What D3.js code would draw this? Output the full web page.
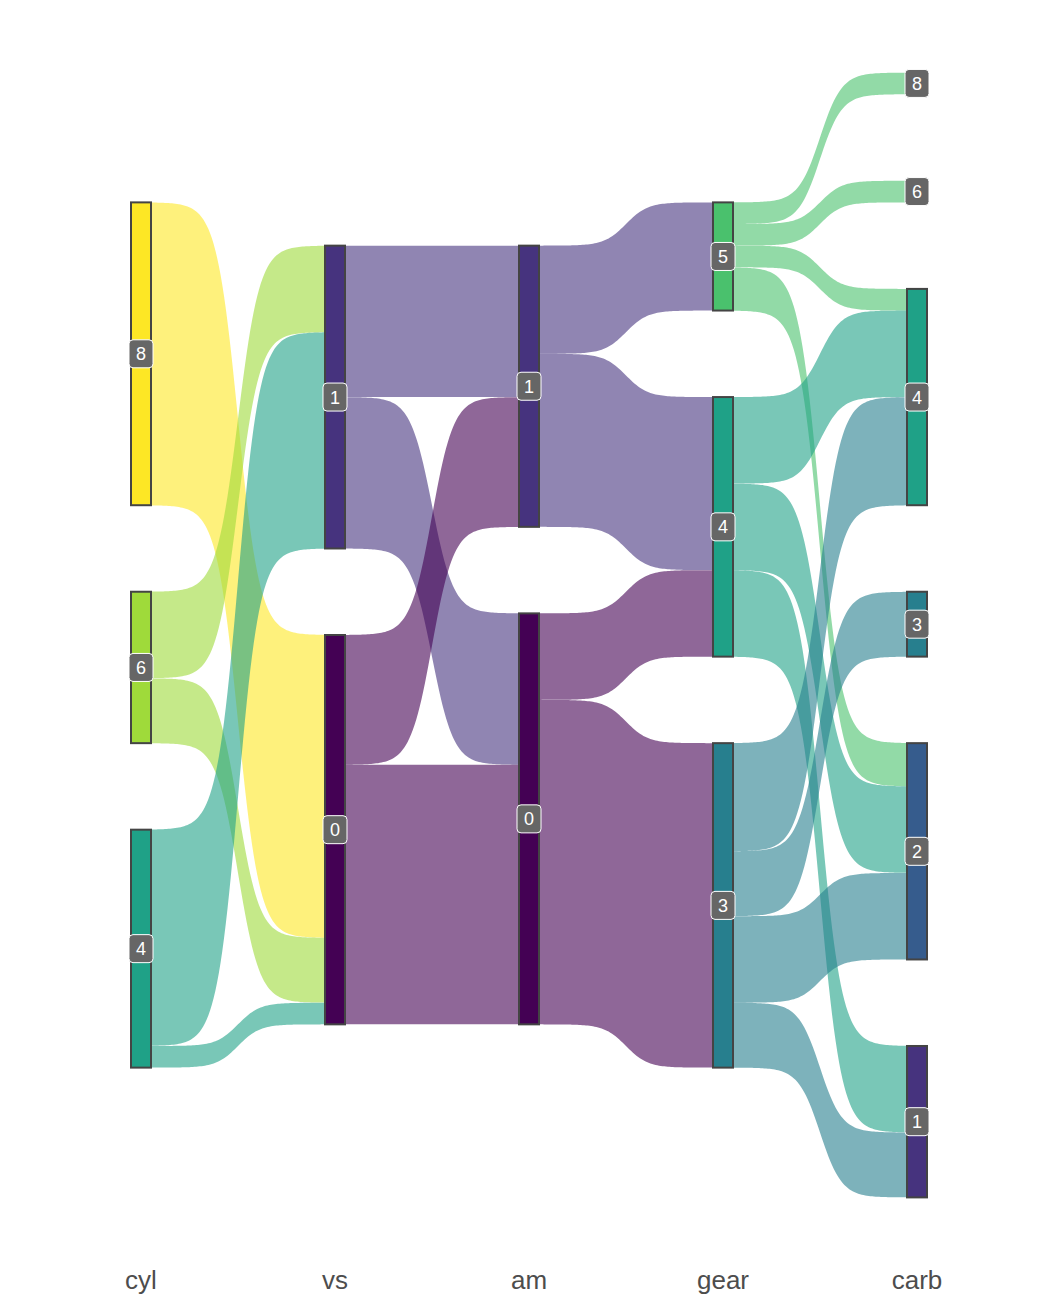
<!DOCTYPE html>
<html>
<head>
<meta charset="utf-8">
<script src="https://cdn.jsdelivr.net/npm/d3@7"></script>
<style>
  body { margin: 0; background: #fff; }
</style>
</head>
<body>
<script>
// stages along x and node order within each stage (top to bottom)
var stages = ["cyl", "vs", "am", "gear", "carb"];
var stageNodes = [
	["8", "6", "4"],
	["1", "0"],
	["1", "0"],
	["5", "4", "3"],
	["8", "6", "4", "3", "2", "1"]];

// flows between neighbouring stages: [from, to, cars]
var cylToVs = [["8","0",14], ["6","1",4], ["6","0",3], ["4","1",10], ["4","0",1]];
var vsToAm = [["1","1",7], ["1","0",7], ["0","1",6], ["0","0",12]];
var amToGear = [["1","5",5], ["1","4",8], ["0","4",4], ["0","3",15]];
var gearToCarb = [["5","8",1], ["5","6",1], ["5","4",1], ["5","2",2],
	["4","4",4], ["4","2",4], ["4","1",4],
	["3","4",5], ["3","3",3], ["3","2",4], ["3","1",3]];
var links = [cylToVs, vsToAm, amToGear, gearToCarb];

var levels = ["0", "1", "2", "3", "4", "5", "6", "8"];
var palette = ["#440154", "#46337E", "#365C8D", "#277F8E", "#1FA187", "#4AC16D", "#9FDA3A", "#FDE725"];

var width = 1050;
var height = 1312;
var gap = 4;
var nodeW = 20;

var color = d3.scaleOrdinal().domain(levels).range(palette);
var x = d3.scalePoint().domain(stages).range([141, 917]);
var y = d3.scaleLinear().domain([-26, 26]).range([72.6, 1197.4]);

var svg = d3.select("body")
	.append("svg")
	.attr("width", width)
	.attr("height", height);

// node sizes and positions
var nodes = stages.map(function(s, i) {
	var list = stageNodes[i].map(function(n) {
		var out = i < links.length ? d3.sum(links[i].filter(function(l) { return l[0] == n }), function(l) { return l[2] }) : 0;
		var inn = i > 0 ? d3.sum(links[i-1].filter(function(l) { return l[1] == n }), function(l) { return l[2] }) : 0;
		return {stage: s, name: n, size: Math.max(out, inn)};
	});
	var total = d3.sum(list, function(d) { return d.size }) + gap * (list.length - 1);
	var pos = -total / 2;
	list.forEach(function(d) {
		d.top = pos;
		d.outPos = pos;
		d.inPos = pos;
		pos += d.size + gap;
	});
	return list;
});

function findNode(i, n) {
	return nodes[i].filter(function(d) { return d.name == n })[0];
}

// build flow bands
var flows = [];
links.forEach(function(link, i) {
	var srcOrder = stageNodes[i], tgtOrder = stageNodes[i+1];
	var byOut = link.slice().sort(function(a, b) {
		return srcOrder.indexOf(a[0]) - srcOrder.indexOf(b[0]) || tgtOrder.indexOf(a[1]) - tgtOrder.indexOf(b[1]);
	});
	byOut.forEach(function(l) {
		var s = findNode(i, l[0]);
		var f = {i: i, from: l[0], to: l[1], n: l[2], y0: s.outPos};
		s.outPos += l[2];
		flows.push(f);
		l.flow = f;
	});
	var byIn = link.slice().sort(function(a, b) {
		return tgtOrder.indexOf(a[1]) - tgtOrder.indexOf(b[1]) || srcOrder.indexOf(a[0]) - srcOrder.indexOf(b[0]);
	});
	byIn.forEach(function(l) {
		var t = findNode(i+1, l[1]);
		l.flow.y1 = t.inPos;
		t.inPos += l[2];
	});
});

var smooth = 8;
var ts = d3.range(0, 1.0001, 0.01);
function sig(t) { var v = -smooth + 2 * smooth * t; return Math.exp(v) / (Math.exp(v) + 1); }

var area = d3.area()
	.x(function(d) { return d.x })
	.y0(function(d) { return d.a })
	.y1(function(d) { return d.b });

svg.append("g").selectAll("path")
	.data(flows)
	.enter()
	.append("path")
	.attr("d", function(f) {
		var x0 = x(stages[f.i]) + nodeW / 2, x1 = x(stages[f.i+1]) - nodeW / 2;
		var pts = ts.map(function(t) {
			var s = sig(t);
			return {
				x: x0 + t * (x1 - x0),
				a: y(f.y0 + s * (f.y1 - f.y0)),
				b: y(f.y0 + f.n + s * (f.y1 - f.y0))
			};
		});
		return area(pts);
	})
	.style("fill", function(f) { return color(f.from) })
	.style("fill-opacity", 0.6);

var allNodes = d3.merge(nodes);

svg.append("g").selectAll("rect")
	.data(allNodes)
	.enter()
	.append("rect")
	.attr("x", function(d) { return x(d.stage) - nodeW / 2 })
	.attr("y", function(d) { return y(d.top) })
	.attr("width", nodeW)
	.attr("height", function(d) { return y(d.top + d.size) - y(d.top) })
	.style("fill", function(d) { return color(d.name) })
	.style("stroke", "#444")
	.style("stroke-width", 2);

var labels = svg.append("g").selectAll("g")
	.data(allNodes)
	.enter()
	.append("g")
	.attr("transform", function(d) { return "translate(" + x(d.stage) + "," + y(d.top + d.size / 2) + ")" });

labels.append("rect")
	.attr("x", -12)
	.attr("y", -14)
	.attr("width", 24)
	.attr("height", 28)
	.attr("rx", 4)
	.style("fill", "#666666")
	.style("stroke", "#fff")
	.style("stroke-width", 1);

labels.append("text")
	.attr("text-anchor", "middle")
	.attr("dy", "0.36em")
	.style("font-family", "Liberation Sans, Arial, sans-serif")
	.style("font-size", "18px")
	.style("fill", "#fff")
	.text(function(d) { return d.name });

// x axis labels
svg.append("g").selectAll("text")
	.data(stages)
	.enter()
	.append("text")
	.attr("x", function(d) { return x(d) })
	.attr("y", 1289)
	.attr("text-anchor", "middle")
	.style("font-family", "Liberation Sans, Arial, sans-serif")
	.style("font-size", "26px")
	.style("fill", "#4D4D4D")
	.text(function(d) { return d });
</script>
</body>
</html>
